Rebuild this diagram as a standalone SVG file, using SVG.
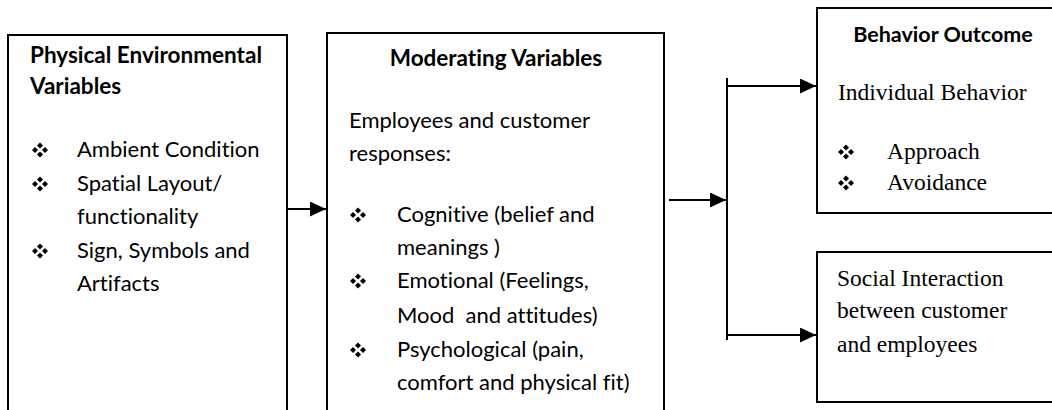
<svg xmlns="http://www.w3.org/2000/svg" width="1052" height="410" viewBox="0 0 1052 410">
  <style>
    .box { fill: #ffffff; stroke: #000000; stroke-width: 2; }
    .conn { fill: none; stroke: #000000; stroke-width: 2; }
    text { font-variant-ligatures: none; fill: #000000; }
    .sans { font-family: Lato, "Open Sans", "Liberation Sans", sans-serif; font-size: 22px; }
    .head { font-family: Lato, "Open Sans", "Liberation Sans", sans-serif; font-size: 22.5px; font-weight: bold; }
    .serif { font-family: "Liberation Serif", "Times New Roman", serif; font-size: 23.5px; }
  </style>
  <defs>
    <marker id="arrow" viewBox="0 0 16 15" refX="16" refY="7.5" markerWidth="16" markerHeight="15" markerUnits="userSpaceOnUse" orient="auto">
      <path d="M0,0 L16,7.5 L0,15 Z" fill="#000000"/>
    </marker>
    <!-- four-diamond bullet, centred on its origin -->
    <g id="bullet">
      <path d="M0,-7.5 L3,-4.5 L0,-1.5 L-3,-4.5 Z"/>
      <path d="M0,7.5 L3,4.5 L0,1.5 L-3,4.5 Z"/>
      <path d="M-8,0 L-5,-3 L-2,0 L-5,3 Z"/>
      <path d="M8,0 L5,-3 L2,0 L5,3 Z"/>
    </g>
  </defs>

  <!-- physical environment -->
  <g id="node-physical">
    <rect class="box" x="8" y="35" width="279" height="390"/>
    <text class="head" x="30" y="63">Physical Environmental</text>
    <text class="head" x="30" y="94">Variables</text>
    <use href="#bullet" x="40" y="150"/>
    <text class="sans" x="77" y="157">Ambient Condition</text>
    <use href="#bullet" x="40" y="184"/>
    <text class="sans" x="77" y="191">Spatial Layout/</text>
    <text class="sans" x="77" y="224">functionality</text>
    <use href="#bullet" x="40" y="251"/>
    <text class="sans" x="77" y="258">Sign, Symbols and</text>
    <text class="sans" x="77" y="291">Artifacts</text>
  </g>

  <!-- moderating variables -->
  <g id="node-moderating">
    <rect class="box" x="327" y="33" width="337" height="390"/>
    <text class="head" x="496" y="66" text-anchor="middle">Moderating Variables</text>
    <text class="sans" x="349" y="128">Employees and customer</text>
    <text class="sans" x="349" y="161">responses:</text>
    <use href="#bullet" x="358" y="215"/>
    <text class="sans" x="397" y="222">Cognitive (belief and</text>
    <text class="sans" x="397" y="255">meanings )</text>
    <use href="#bullet" x="358" y="281"/>
    <text class="sans" x="397" y="288">Emotional (Feelings,</text>
    <text class="sans" x="397" y="323" xml:space="preserve">Mood  and attitudes)</text>
    <use href="#bullet" x="358" y="350"/>
    <text class="sans" x="397" y="357">Psychological (pain,</text>
    <text class="sans" x="397" y="390">comfort and physical fit)</text>
  </g>

  <!-- behaviour outcome -->
  <g id="node-outcome">
    <rect class="box" x="817" y="8" width="250" height="205"/>
    <text class="head" x="943" y="42" text-anchor="middle" style="font-size:21.5px">Behavior Outcome</text>
    <text class="serif" x="838" y="100">Individual Behavior</text>
    <use href="#bullet" x="846" y="152"/>
    <text class="serif" x="887" y="159">Approach</text>
    <use href="#bullet" x="846" y="183"/>
    <text class="serif" x="887" y="190">Avoidance</text>
  </g>

  <!-- social interaction -->
  <g id="node-social">
    <rect class="box" x="817" y="252" width="250" height="150"/>
    <text class="serif" x="837" y="286">Social Interaction</text>
    <text class="serif" x="837" y="318">between customer</text>
    <text class="serif" x="837" y="352">and employees</text>
  </g>

  <g id="connectors">
    <line class="conn" x1="287" y1="209" x2="326" y2="209" marker-end="url(#arrow)"/>
    <line class="conn" x1="669" y1="200" x2="726" y2="200" marker-end="url(#arrow)"/>
    <line class="conn" x1="727" y1="78" x2="727" y2="340"/>
    <line class="conn" x1="727" y1="86" x2="816" y2="86" marker-end="url(#arrow)"/>
    <line class="conn" x1="727" y1="335" x2="816" y2="335" marker-end="url(#arrow)"/>
  </g>
</svg>
